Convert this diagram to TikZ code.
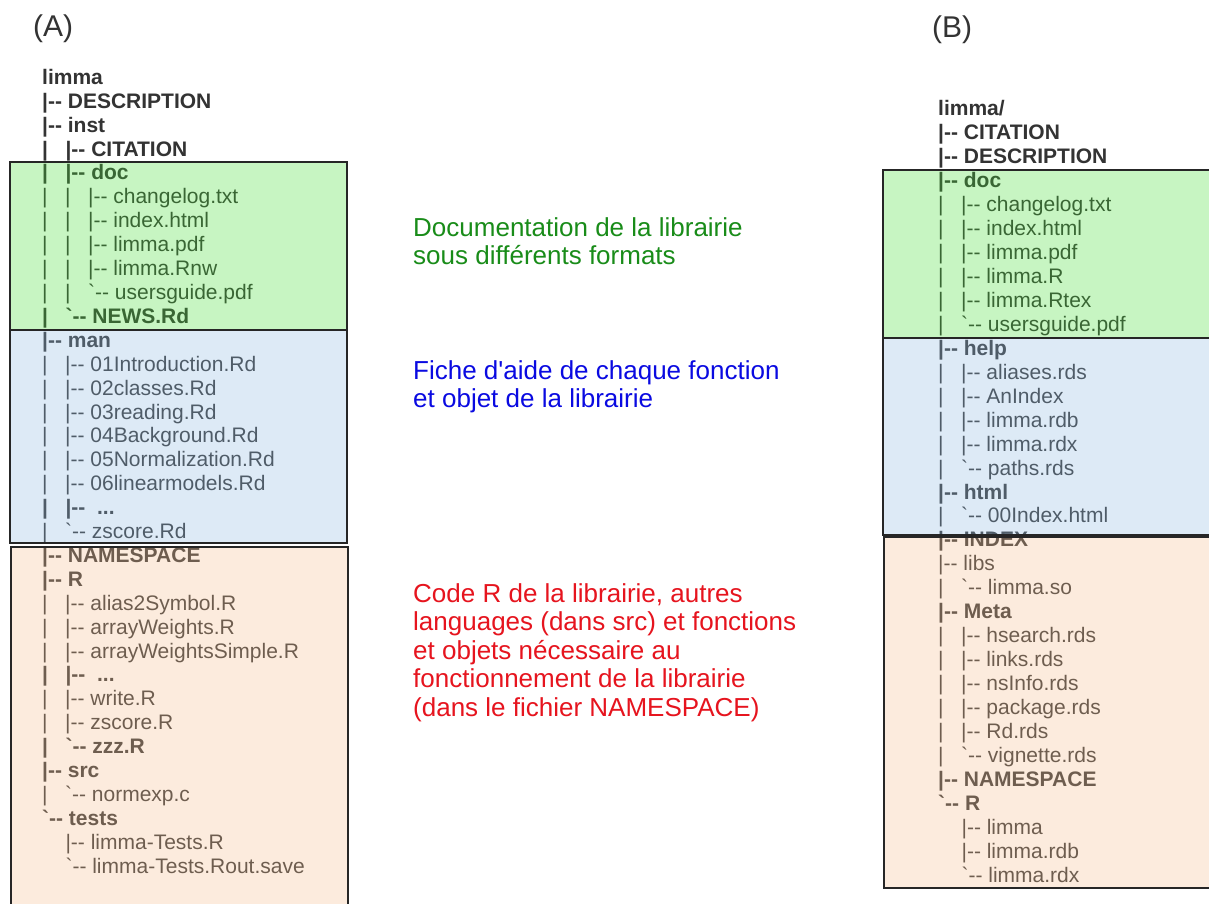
\documentclass[tikz,border=0pt]{standalone}
\usepackage{fontspec}
\setmainfont{Liberation Sans}[Ligatures=TeXOff]
\definecolor{txt}{RGB}{51,51,51}
\definecolor{gfill}{RGB}{72,222,55}
\definecolor{bfill}{RGB}{145,188,228}
\definecolor{ofill}{RGB}{248,192,145}
\definecolor{gtext}{RGB}{25,140,25}
\definecolor{btext}{RGB}{10,10,225}
\definecolor{rtext}{RGB}{230,20,30}
\tikzset{
  tree/.style={anchor=base west, inner sep=0pt, text=txt, font=\fontsize{21}{24}\selectfont},
  note/.style={anchor=base west, inner sep=0pt, font=\fontsize{26}{28.5}\selectfont},
  panel/.style={anchor=base west, inner sep=0pt, text=txt, font=\fontsize{30}{32}\selectfont},
  zone/.style={draw=black!85, line width=1.3pt, fill opacity=0.3, draw opacity=1}
}
\begin{document}
\begin{tikzpicture}[x=1pt,y=-1pt]
\clip (0,0) rectangle (1209,904);
\fill[white] (0,0) rectangle (1209,904);

\node[panel] (lblA) at (33,37) {(A)};
\node[panel] (lblB) at (932,38) {(B)};

% left tree
\foreach \t [count=\i] in {
  {\textbf{limma}},
  {\textbf{|-- DESCRIPTION}},
  {\textbf{|-- inst}},
  {\textbf{|~~~|-- CITATION}},
  {\textbf{|~~~|-- doc}},
  {|~~~|~~~|-- changelog.txt},
  {|~~~|~~~|-- index.html},
  {|~~~|~~~|-- limma.pdf},
  {|~~~|~~~|-- limma.Rnw},
  {|~~~|~~~`-- usersguide.pdf},
  {\textbf{|~~~`-- NEWS.Rd}},
  {\textbf{|-- man}},
  {|~~~|-- 01Introduction.Rd},
  {|~~~|-- 02classes.Rd},
  {|~~~|-- 03reading.Rd},
  {|~~~|-- 04Background.Rd},
  {|~~~|-- 05Normalization.Rd},
  {|~~~|-- 06linearmodels.Rd},
  {\textbf{|~~~|--~~...}},
  {|~~~`-- zscore.Rd},
  {\textbf{|-- NAMESPACE}},
  {\textbf{|-- R}},
  {|~~~|-- alias2Symbol.R},
  {|~~~|-- arrayWeights.R},
  {|~~~|-- arrayWeightsSimple.R},
  {\textbf{|~~~|--~~...}},
  {|~~~|-- write.R},
  {|~~~|-- zscore.R},
  {\textbf{|~~~`-- zzz.R}},
  {\textbf{|-- src}},
  {|~~~`-- normexp.c},
  {\textbf{`-- tests}},
  {~~~~|-- limma-Tests.R},
  {~~~~`-- limma-Tests.Rout.save}}
  \node[tree] (a\i) at (42,{84.4+(\i-1)*23.9}) {\t};

% right tree
\foreach \t [count=\i] in {
  {\textbf{limma/}},
  {\textbf{|-- CITATION}},
  {\textbf{|-- DESCRIPTION}},
  {\textbf{|-- doc}},
  {|~~~|-- changelog.txt},
  {|~~~|-- index.html},
  {|~~~|-- limma.pdf},
  {|~~~|-- limma.R},
  {|~~~|-- limma.Rtex},
  {|~~~`-- usersguide.pdf},
  {\textbf{|-- help}},
  {|~~~|-- aliases.rds},
  {|~~~|-- AnIndex},
  {|~~~|-- limma.rdb},
  {|~~~|-- limma.rdx},
  {|~~~`-- paths.rds},
  {\textbf{|-- html}},
  {|~~~`-- 00Index.html},
  {\textbf{|-- INDEX}},
  {|-- libs},
  {|~~~`-- limma.so},
  {\textbf{|-- Meta}},
  {|~~~|-- hsearch.rds},
  {|~~~|-- links.rds},
  {|~~~|-- nsInfo.rds},
  {|~~~|-- package.rds},
  {|~~~|-- Rd.rds},
  {|~~~`-- vignette.rds},
  {\textbf{|-- NAMESPACE}},
  {\textbf{`-- R}},
  {~~~~|-- limma},
  {~~~~|-- limma.rdb},
  {~~~~`-- limma.rdx}}
  \node[tree] (b\i) at (938,{116+(\i-1)*23.94}) {\t};

% coloured zones (translucent, over the text)
\draw[zone, fill=gfill] (10,162) rectangle (347,330);
\draw[zone, fill=bfill] (10,330) rectangle (347,543);
\draw[zone, fill=ofill] (11,547) rectangle (348,915);
\draw[zone, fill=gfill] (883,170) rectangle (1220,338);
\draw[zone, fill=bfill] (883,338) rectangle (1220,535);
\draw[zone, fill=ofill] (884,537) rectangle (1220,888);

% notes
\node[note, text=gtext] (g1) at (413,236) {Documentation de la librairie};
\node[note, text=gtext] (g2) at (413,264) {sous différents formats};
\node[note, text=btext] (h1) at (413,379) {Fiche d'aide de chaque fonction};
\node[note, text=btext] (h2) at (413,407) {et objet de la librairie};
\node[note, text=rtext] (r1) at (413,602) {Code R de la librairie, autres};
\node[note, text=rtext] (r2) at (413,630.5) {languages (dans src) et fonctions};
\node[note, text=rtext] (r3) at (413,659) {et objets nécessaire au};
\node[note, text=rtext] (r4) at (413,687.5) {fonctionnement de la librairie};
\node[note, text=rtext] (r5) at (413,716) {(dans le fichier NAMESPACE)};
\end{tikzpicture}
\end{document}
